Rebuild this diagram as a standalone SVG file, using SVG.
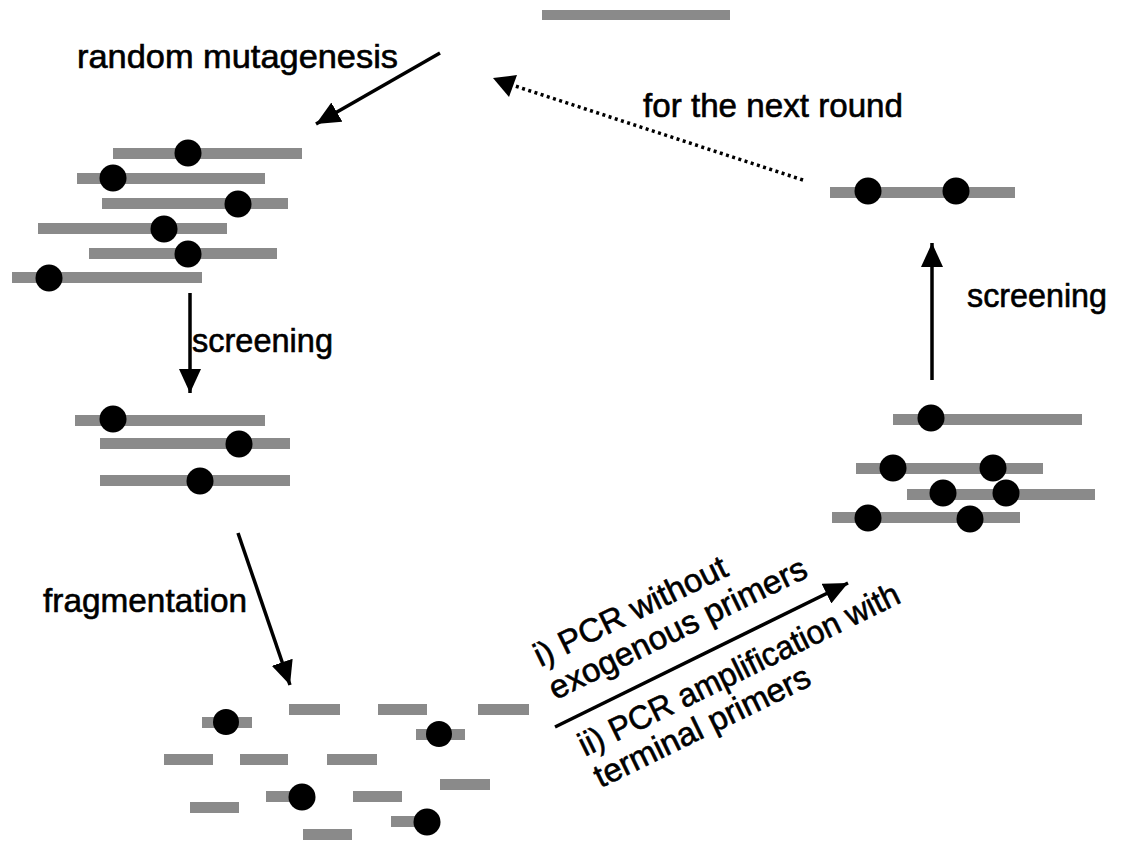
<svg xmlns="http://www.w3.org/2000/svg" width="1122" height="841" viewBox="0 0 1122 841">
<defs>
<style>
.bar{fill:#8a8a8a}
.dot{fill:#000}
.lbl{font-family:"Liberation Sans",Arial,Helvetica,sans-serif;font-size:33px;fill:#000;stroke:#000;stroke-width:0.6}
.arr{stroke:#000;stroke-width:3.5;fill:none}
.dotted{stroke:#000;stroke-width:3.5;fill:none;stroke-dasharray:3 3.5}
</style>
<marker id="ah" viewBox="0 0 24 22" refX="24" refY="11" markerWidth="24" markerHeight="22" markerUnits="userSpaceOnUse" orient="auto">
<path d="M0,0 L24,11 L0,22 z" fill="#000"/>
</marker>
</defs>
<rect width="1122" height="841" fill="#fff"/>

<g id="template">
<rect class="bar" x="542" y="10" width="188" height="10"/>
</g>

<g id="mutants">
<rect class="bar" x="113" y="148" width="189" height="11"/><circle class="dot" cx="188" cy="153" r="13.5"/>
<rect class="bar" x="77" y="173" width="188" height="11"/><circle class="dot" cx="113" cy="178" r="13.5"/>
<rect class="bar" x="102" y="198" width="186" height="11"/><circle class="dot" cx="238" cy="204" r="13.5"/>
<rect class="bar" x="38" y="223" width="189" height="11"/><circle class="dot" cx="164" cy="229" r="13.5"/>
<rect class="bar" x="89" y="248" width="188" height="11"/><circle class="dot" cx="188" cy="254" r="13.5"/>
<rect class="bar" x="12" y="272" width="190" height="11"/><circle class="dot" cx="49" cy="278" r="13.5"/>
</g>

<g id="selected">
<rect class="bar" x="75" y="415" width="190" height="11"/><circle class="dot" cx="113" cy="419" r="13.5"/>
<rect class="bar" x="100" y="438" width="190" height="11"/><circle class="dot" cx="239" cy="444" r="13.5"/>
<rect class="bar" x="100" y="475" width="190" height="11"/><circle class="dot" cx="200" cy="481" r="13.5"/>
</g>

<g id="fragments">
<rect class="bar" x="202" y="717" width="50" height="11"/><circle class="dot" cx="226" cy="722" r="13"/>
<rect class="bar" x="289" y="704" width="51" height="11"/>
<rect class="bar" x="378" y="704" width="49" height="11"/>
<rect class="bar" x="478" y="704" width="51" height="11"/>
<rect class="bar" x="416" y="729" width="49" height="11"/><circle class="dot" cx="439" cy="734" r="13"/>
<rect class="bar" x="164" y="754" width="49" height="11"/>
<rect class="bar" x="240" y="754" width="48" height="11"/>
<rect class="bar" x="327" y="754" width="50" height="11"/>
<rect class="bar" x="440" y="779" width="50" height="11"/>
<rect class="bar" x="266" y="791" width="40" height="11"/><circle class="dot" cx="302" cy="797" r="13.5"/>
<rect class="bar" x="353" y="791" width="49" height="11"/>
<rect class="bar" x="190" y="802" width="49" height="11"/>
<rect class="bar" x="391" y="816" width="36" height="11"/><circle class="dot" cx="427" cy="822" r="13.5"/>
<rect class="bar" x="303" y="829" width="49" height="11"/>
</g>

<g id="recombinants">
<rect class="bar" x="893" y="414" width="189" height="11"/><circle class="dot" cx="931" cy="418" r="13.5"/>
<rect class="bar" x="856" y="463" width="187" height="11"/><circle class="dot" cx="893" cy="468" r="13.5"/><circle class="dot" cx="993" cy="468" r="13.5"/>
<rect class="bar" x="907" y="489" width="188" height="11"/><circle class="dot" cx="943" cy="493" r="13.5"/><circle class="dot" cx="1006" cy="493" r="13.5"/>
<rect class="bar" x="832" y="512" width="188" height="11"/><circle class="dot" cx="868" cy="518" r="13.5"/><circle class="dot" cx="970" cy="519" r="13.5"/>
</g>

<g id="improved">
<rect class="bar" x="830" y="187" width="185" height="11"/><circle class="dot" cx="868" cy="191" r="13.5"/><circle class="dot" cx="956" cy="191" r="13.5"/>
</g>

<g id="connectors">
<line class="arr" x1="440" y1="53" x2="316" y2="124" marker-end="url(#ah)"/>
<line class="arr" x1="190" y1="293" x2="190" y2="393" marker-end="url(#ah)"/>
<line class="arr" x1="238" y1="533" x2="290" y2="685" marker-end="url(#ah)"/>
<line class="arr" x1="555" y1="727" x2="848" y2="583" marker-end="url(#ah)"/>
<line class="arr" x1="932" y1="380" x2="932" y2="243" marker-end="url(#ah)"/>
<line class="dotted" x1="803" y1="180" x2="512" y2="85"/>
<path d="M493,78 L517,75 L509,97 z" fill="#000"/>
</g>

<g id="labels">
<text class="lbl" x="77" y="68" textLength="321" lengthAdjust="spacingAndGlyphs">random mutagenesis</text>
<text class="lbl" x="643" y="117" textLength="260" lengthAdjust="spacingAndGlyphs">for the next round</text>
<text class="lbl" x="192" y="352" textLength="141" lengthAdjust="spacingAndGlyphs">screening</text>
<text class="lbl" x="43" y="612" textLength="204" lengthAdjust="spacingAndGlyphs">fragmentation</text>
<text class="lbl" x="967" y="307" textLength="140" lengthAdjust="spacingAndGlyphs">screening</text>
<g transform="translate(555,727) rotate(-26)">
<text class="lbl" x="13" y="-60">i) PCR without</text>
<text class="lbl" x="12" y="-24" textLength="283" lengthAdjust="spacingAndGlyphs">exogenous primers</text>
<text class="lbl" x="14" y="40" textLength="353" lengthAdjust="spacingAndGlyphs">ii) PCR amplification with</text>
<text class="lbl" x="14" y="75">terminal primers</text>
</g>
</g>
</svg>
